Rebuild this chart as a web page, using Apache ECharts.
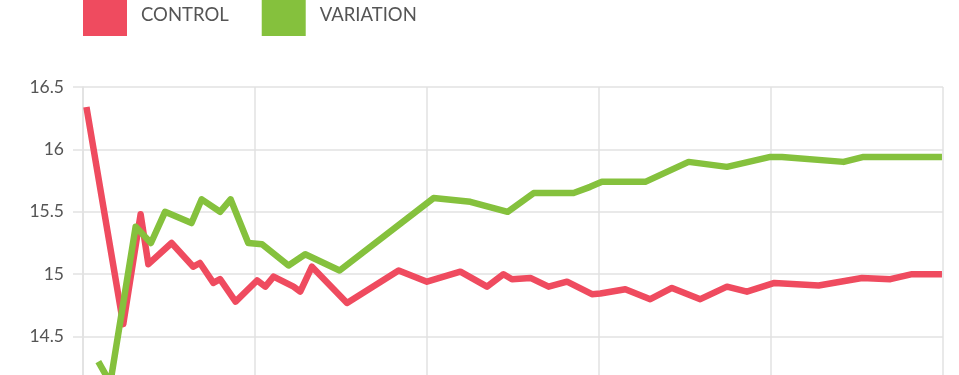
<!DOCTYPE html>
<html>
<head>
<meta charset="utf-8">
<script src="https://cdn.jsdelivr.net/npm/echarts@6/dist/echarts.min.js"></script>
<style>
html,body{margin:0;padding:0;background:#fff;overflow:hidden;}
#chart{width:959px;height:420px;}
</style>
</head>
<body>
<div id="chart"></div>
<script>
var seriesNames = ['CONTROL', 'VARIATION'];
var yTicks = [14, 14.5, 15, 15.5, 16, 16.5];

var controlX = [0.2, 2.34, 3.35, 3.80, 5.15, 6.41, 6.80, 7.58, 7.97, 8.87, 10.12, 10.60, 11.08, 12.24, 12.63, 13.31, 15.35, 18.35, 20.0, 21.94, 23.49, 24.45, 24.94, 26.01, 27.07, 28.14, 29.59, 30.08, 31.53, 32.98, 34.24, 35.89, 37.44, 38.60, 40.2, 42.77, 45.29, 46.94, 48.20, 49.94];
var controlY = [16.34, 14.60, 15.48, 15.08, 15.25, 15.06, 15.09, 14.93, 14.96, 14.78, 14.95, 14.90, 14.98, 14.90, 14.86, 15.06, 14.77, 15.03, 14.94, 15.02, 14.90, 15.00, 14.96, 14.97, 14.90, 14.94, 14.84, 14.845, 14.88, 14.80, 14.89, 14.80, 14.90, 14.86, 14.93, 14.91, 14.97, 14.96, 15.00, 15.00];

var variationX = [0.89, 1.59, 3.06, 3.95, 4.77, 6.31, 6.90, 7.97, 8.58, 9.61, 10.41, 11.95, 12.92, 14.92, 20.38, 22.52, 24.69, 26.20, 28.52, 29.49, 30.17, 32.69, 35.21, 37.44, 39.96, 40.64, 44.22, 45.38, 49.94];
var variationY = [14.30, 14.13, 15.38, 15.25, 15.50, 15.41, 15.60, 15.50, 15.60, 15.25, 15.24, 15.07, 15.16, 15.03, 15.61, 15.58, 15.50, 15.65, 15.65, 15.70, 15.74, 15.74, 15.90, 15.86, 15.94, 15.94, 15.90, 15.94, 15.94];

function pairs(xs, ys) {
  return xs.map(function (x, i) { return [x, ys[i]]; });
}

var colors = ['#ef4b5f', '#85c13d'];
var chart = echarts.init(document.getElementById('chart'), null, {renderer: 'canvas'});
chart.setOption({
  animation: false,
  color: colors,
  legend: {
    left: 83,
    top: -5,
    padding: 0,
    itemWidth: 44,
    itemHeight: 41,
    itemGap: 33,
    icon: 'rect',
    data: seriesNames,
    textStyle: {
      fontFamily: 'Lato',
      fontSize: 18.5,
      color: '#555',
      padding: [0, 0, 0, 9]
    }
  },
  grid: {
    left: 83,
    right: 16,
    top: 87,
    bottom: 21,
    containLabel: false
  },
  xAxis: {
    type: 'value',
    min: 0,
    max: 50,
    interval: 10,
    axisLine: {show: false},
    axisTick: {show: false},
    axisLabel: {show: false},
    splitLine: {show: true, lineStyle: {color: '#e2e2e2', width: 1.5}}
  },
  yAxis: {
    type: 'value',
    min: yTicks[0],
    max: yTicks[yTicks.length - 1],
    interval: 0.5,
    axisLine: {show: true, lineStyle: {color: '#e2e2e2', width: 1.5}},
    axisTick: {show: true, length: 10, lineStyle: {color: '#e2e2e2', width: 1.5}},
    axisLabel: {
      margin: 19,
      fontFamily: 'Lato',
      fontSize: 17.5,
      color: '#555',
      formatter: function (v) { return String(v); }
    },
    splitLine: {show: true, lineStyle: {color: '#e2e2e2', width: 1.5}}
  },
  series: [
    {
      name: seriesNames[0],
      type: 'line',
      data: pairs(controlX, controlY),
      showSymbol: false,
      symbol: 'none',
      lineStyle: {width: 6.5, color: colors[0], join: 'round'},
      z: 3
    },
    {
      name: seriesNames[1],
      type: 'line',
      data: pairs(variationX, variationY),
      showSymbol: false,
      symbol: 'none',
      lineStyle: {width: 6.5, color: colors[1], join: 'round'},
      z: 4
    }
  ]
});
</script>
</body>
</html>
